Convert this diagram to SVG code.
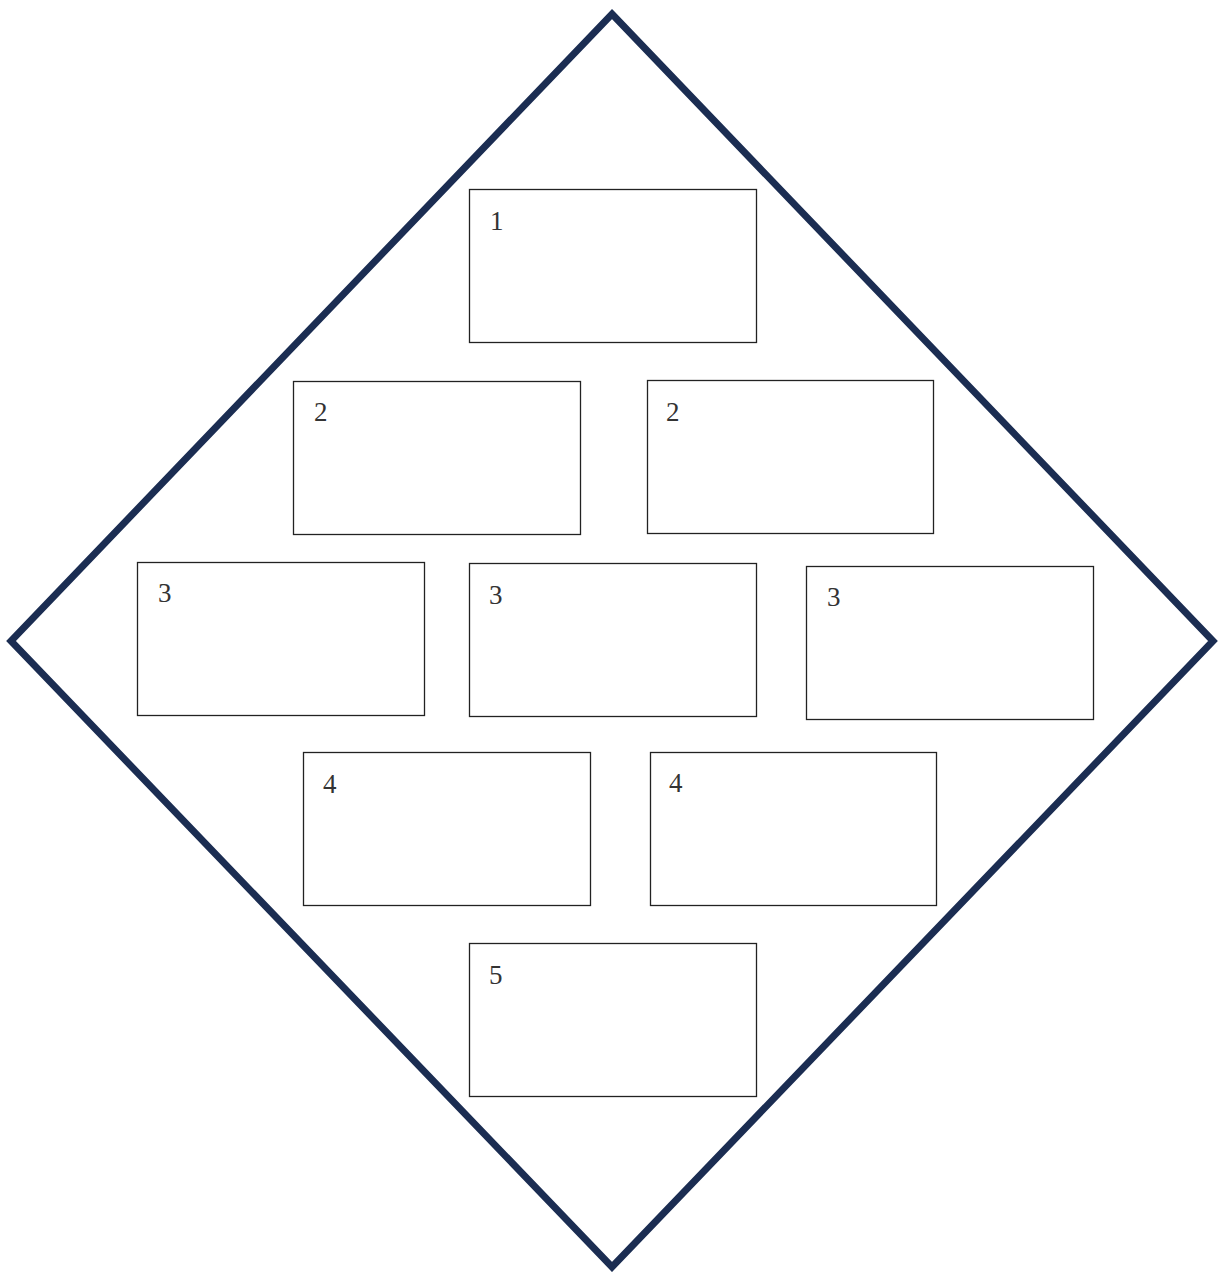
<svg xmlns="http://www.w3.org/2000/svg" width="1219" height="1272" viewBox="0 0 1219 1272">
<style>
.box{fill:#fff;stroke:#222;stroke-width:1.3}
.lbl{font-family:"Liberation Serif","DejaVu Serif",serif;font-size:27px;fill:#333}
</style>
<rect width="1219" height="1272" fill="#fff"/>
<g id="diamond"><polygon points="612,14 1213,641 612,1267 11,641" fill="none" stroke="#1b2d52" stroke-width="7" stroke-linejoin="miter"/></g>
<g id="connectors"></g>
<g id="n1"><rect class="box" x="469.5" y="189.5" width="287" height="153"/><text class="lbl" x="490" y="230">1</text></g>
<g id="n2a"><rect class="box" x="293.5" y="381.5" width="287" height="153"/><text class="lbl" x="314" y="421">2</text></g>
<g id="n2b"><rect class="box" x="647.5" y="380.5" width="286" height="153"/><text class="lbl" x="666" y="421">2</text></g>
<g id="n3a"><rect class="box" x="137.5" y="562.5" width="287" height="153"/><text class="lbl" x="158" y="602">3</text></g>
<g id="n3b"><rect class="box" x="469.5" y="563.5" width="287" height="153"/><text class="lbl" x="489" y="604">3</text></g>
<g id="n3c"><rect class="box" x="806.5" y="566.5" width="287" height="153"/><text class="lbl" x="827" y="606">3</text></g>
<g id="n4a"><rect class="box" x="303.5" y="752.5" width="287" height="153"/><text class="lbl" x="323" y="793">4</text></g>
<g id="n4b"><rect class="box" x="650.5" y="752.5" width="286" height="153"/><text class="lbl" x="669" y="792">4</text></g>
<g id="n5"><rect class="box" x="469.5" y="943.5" width="287" height="153"/><text class="lbl" x="489" y="984">5</text></g>
</svg>
